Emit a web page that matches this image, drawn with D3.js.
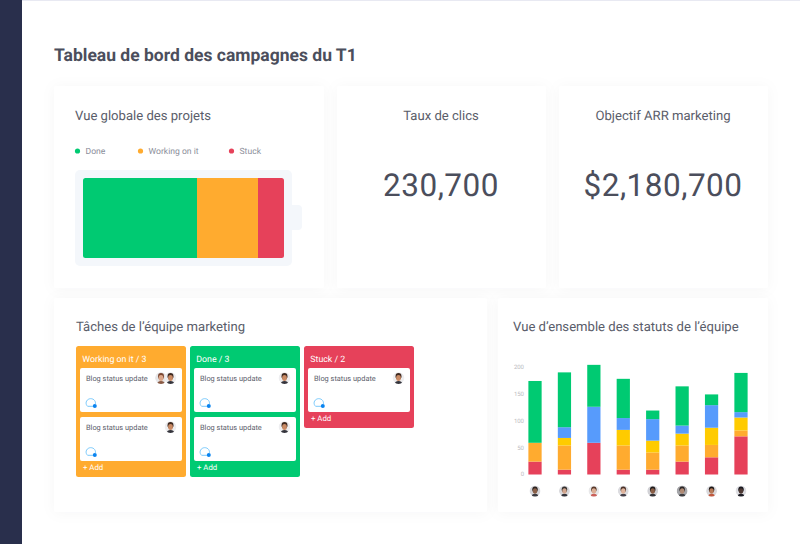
<!DOCTYPE html>
<html>
<head>
<meta charset="utf-8">
<style>
  html, body { margin: 0; padding: 0; background: #fff; overflow: hidden; }
  text { font-family: Roboto, sans-serif; text-rendering: geometricPrecision; }
</style>
<script src="https://cdn.jsdelivr.net/npm/d3@7/dist/d3.min.js"></script>
</head>
<body>
<div id="graph"></div>
<script>
// Data ////////////////////////////////////////////////////////////////
const pageTitle = "Tableau de bord des campagnes du T1";
const batteryLabels = ["Done", "Working on it", "Stuck"];
const batteryValues = [114, 61, 26];

const kpiTitles = ["Taux de clics", "Objectif ARR marketing"];
const kpiValues = ["230,700", "$2,180,700"];

const kanbanTitles = ["Working on it / 3", "Done / 3", "Stuck / 2"];
const kanbanCards = [
  [["a", "b"], ["b"]],
  [["b"], ["b"]],
  [["b"]]
];

const people = ["p1", "p2", "p3", "p4", "p5", "p6", "p7", "p8"];
const stackKeys = ["red", "orange", "yellow", "blue", "green"];
const redValues = [24, 9, 59, 9, 9, 24, 32, 71];
const orangeValues = [35, 45, 0, 45, 32, 30, 23, 11];
const yellowValues = [0, 14, 0, 29, 22, 22, 32, 24];
const blueValues = [0, 20, 67, 22, 40, 15, 42, 10];
const greenValues = [115, 102, 78, 73, 16, 73, 20, 73];
const yTicks = [0, 50, 100, 150, 200];

// Constants ////////////////////////////////////////////////////////////////
const svgWidth = 800;
const svgHeight = 544;
const colors = {
  green: "#00ca72",
  orange: "#ffab2f",
  red: "#e6415a",
  yellow: "#ffcb00",
  blue: "#579bfc",
  ink: "#4b4e5c",
  title: "#5a5d6a",
  muted: "#8b8e9a",
  sidebar: "#292f4c",
  battery: "#f4f7fb"
};
const avatarStyles = {
  a: { hair: "#7a4630", skin: "#dca78a", shirt: "#8a5a44", bg: "#e6e6e8" },
  b: { hair: "#3f2a20", skin: "#c98a64", shirt: "#34343c", bg: "#eeeef0" },
  p1: { hair: "#2c2320", skin: "#8a6048", shirt: "#3a3a40", bg: "#d6d6da" },
  p2: { hair: "#34302e", skin: "#d2a68e", shirt: "#34343c", bg: "#d8d8dc" },
  p3: { hair: "#5a3a2a", skin: "#dcae94", shirt: "#c9605a", bg: "#e8e8ea" },
  p4: { hair: "#4a3026", skin: "#e0b49c", shirt: "#45404a", bg: "#dcdce0" },
  p5: { hair: "#1e1a1a", skin: "#8a5e46", shirt: "#333338", bg: "#d2d2d6" },
  p6: { hair: "#2a2626", skin: "#b08a74", shirt: "#3c3c40", bg: "#a6a6aa" },
  p7: { hair: "#1c1716", skin: "#b87a58", shirt: "#c0583e", bg: "#dadade" },
  p8: { hair: "#1a1a20", skin: "#4e3a34", shirt: "#1c1c24", bg: "#dedee2" }
};

const svg = d3
  .select("#graph")
  .append("svg")
  .attr("width", svgWidth)
  .attr("height", svgHeight)
  .style("display", "block");

// Shadow ////////////////////////////////////////////////////////////////
const defs = svg.append("defs");
const filter = defs
  .append("filter")
  .attr("id", "cardShadow")
  .attr("x", "-10%")
  .attr("y", "-10%")
  .attr("width", "120%")
  .attr("height", "120%");
filter
  .append("feDropShadow")
  .attr("dx", 0)
  .attr("dy", 1)
  .attr("stdDeviation", 7)
  .attr("flood-color", "#1d2a50")
  .attr("flood-opacity", 0.035);

// Frame ////////////////////////////////////////////////////////////////
svg.append("rect").attr("x", 22).attr("y", 0).attr("width", 778).attr("height", 1).style("fill", "#e8e9f2");
svg.append("rect").attr("x", 0).attr("y", 0).attr("width", 22).attr("height", svgHeight).style("fill", colors.sidebar);

svg.append("text")
  .attr("x", 54)
  .attr("y", 61)
  .style("font-size", "17.5px")
  .style("font-weight", 700)
  .style("fill", colors.ink)
  .text(pageTitle);

const panels = [
  { x: 54, y: 86, w: 270, h: 202 },
  { x: 337, y: 86, w: 209, h: 202 },
  { x: 559, y: 86, w: 209, h: 202 },
  { x: 54, y: 298, w: 433, h: 214 },
  { x: 498, y: 298, w: 270, h: 214 }
];
svg.selectAll(".panel")
  .data(panels)
  .join("rect")
  .attr("class", "panel")
  .attr("x", d => d.x)
  .attr("y", d => d.y)
  .attr("width", d => d.w)
  .attr("height", d => d.h)
  .attr("rx", 3)
  .style("fill", "#fff")
  .style("filter", "url(#cardShadow)");

function panelTitle(x, y, label, anchor = "start") {
  svg.append("text")
    .attr("x", x)
    .attr("y", y)
    .attr("text-anchor", anchor)
    .style("font-size", "13.1px")
    .style("fill", colors.title)
    .text(label);
}

panelTitle(75, 120, "Vue globale des projets");
panelTitle(76, 331, "Tâches de l’équipe marketing");
panelTitle(513, 331, "Vue d’ensemble des statuts de l’équipe");

drawBattery();
drawKpis();
drawKanban();
drawStatusChart();

// Draw functions ///////////////////////////////////////////////////////////
function drawBattery() {
  const legendDots = [77.5, 140.5, 231.5];
  const batteryColors = [colors.green, colors.orange, colors.red];
  const legend = svg.selectAll(".legendItem")
    .data(batteryLabels)
    .join("g")
    .attr("class", "legendItem")
    .attr("transform", (d, i) => `translate(${legendDots[i]}, 151)`);
  legend.append("circle")
    .attr("r", 2.6)
    .style("fill", (d, i) => batteryColors[i]);
  legend.append("text")
    .attr("x", 8)
    .attr("y", 3)
    .style("font-size", "8.6px")
    .style("fill", colors.muted)
    .text(d => d);

  svg.append("rect").attr("x", 285).attr("y", 205).attr("width", 17).attr("height", 25).attr("rx", 4).style("fill", colors.battery);
  svg.append("rect").attr("x", 75).attr("y", 170).attr("width", 217).attr("height", 96).attr("rx", 5).style("fill", colors.battery);

  defs.append("clipPath")
    .attr("id", "batteryClip")
    .append("rect")
    .attr("x", 83).attr("y", 178).attr("width", 201).attr("height", 80).attr("rx", 2.5);

  const x = d3.scaleLinear().domain([0, d3.sum(batteryValues)]).range([83, 284]);
  const offsets = d3.cumsum(batteryValues);
  svg.append("g")
    .attr("clip-path", "url(#batteryClip)")
    .selectAll("rect")
    .data(batteryValues)
    .join("rect")
    .attr("x", (d, i) => x(offsets[i] - d))
    .attr("y", 178)
    .attr("width", d => x(d) - x(0))
    .attr("height", 80)
    .style("fill", (d, i) => batteryColors[i]);
}

function drawKpis() {
  const centers = [441, 663];
  kpiTitles.forEach((t, i) => {
    panelTitle(centers[i], 120, t, "middle");
    svg.append("text")
      .attr("x", centers[i])
      .attr("y", 196)
      .attr("text-anchor", "middle")
      .style("font-size", "31.5px")
      .style("letter-spacing", "0.5px")
      .style("fill", colors.ink)
      .text(kpiValues[i]);
  });
}

function drawAvatar(container, cx, cy, r, key) {
  const s = avatarStyles[key];
  const clipId = `clip-${cx}-${cy}`.replace(/\./g, "_");
  defs.append("clipPath")
    .attr("id", clipId)
    .append("circle")
    .attr("cx", cx).attr("cy", cy).attr("r", r);
  const g = container.append("g").attr("clip-path", `url(#${clipId})`);
  g.append("circle").attr("cx", cx).attr("cy", cy).attr("r", r).style("fill", s.bg);
  g.append("ellipse").attr("cx", cx).attr("cy", cy + r * 1.05).attr("rx", r * 0.62).attr("ry", r * 0.55).style("fill", s.shirt);
  g.append("ellipse").attr("cx", cx).attr("cy", cy - r * 0.28).attr("rx", r * 0.5).attr("ry", r * 0.55).style("fill", s.hair);
  g.append("ellipse").attr("cx", cx).attr("cy", cy + r * 0.02).attr("rx", r * 0.4).attr("ry", r * 0.5).style("fill", s.skin);
}

function drawChatIcon(container, cx, cy) {
  container.append("path")
    .attr("d", `M${cx - 3.4} ${cy + 3.8} A4.7 4.4 0 1 1 ${cx + 4.4} ${cy + 1.4}`)
    .style("fill", "none")
    .style("stroke", "#6cc3fa")
    .style("stroke-width", 0.9);
  container.append("path")
    .attr("d", `M${cx - 3.4} ${cy + 3.8} L${cx + 2} ${cy + 3.8}`)
    .style("stroke", "#6cc3fa")
    .style("stroke-width", 0.9);
  container.append("circle")
    .attr("cx", cx + 3.8)
    .attr("cy", cy + 3.4)
    .attr("r", 2)
    .style("fill", "#0a84f0");
}

function drawKanban() {
  const colFill = [colors.orange, colors.green, colors.red];
  const cardH = 44;
  const cardGap = 49;

  kanbanTitles.forEach((title, i) => {
    const x0 = 76 + i * 114;
    const cards = kanbanCards[i];
    const col = svg.append("g");
    col.append("rect")
      .attr("x", x0)
      .attr("y", 346)
      .attr("width", 110)
      .attr("height", 33 + cards.length * cardGap)
      .attr("rx", 2.5)
      .style("fill", colFill[i]);
    col.append("text")
      .attr("x", x0 + 6.3)
      .attr("y", 362)
      .style("font-size", "8.8px")
      .style("fill", "#fff")
      .text(title);

    cards.forEach((avatars, j) => {
      const y0 = 368 + j * cardGap;
      col.append("rect")
        .attr("x", x0 + 4)
        .attr("y", y0)
        .attr("width", 102)
        .attr("height", cardH)
        .attr("rx", 2)
        .style("fill", "#fff");
      col.append("text")
        .attr("x", x0 + 10)
        .attr("y", y0 + 13)
        .style("font-size", "7.4px")
        .style("fill", colors.title)
        .text("Blog status update");
      drawChatIcon(col, x0 + 15, y0 + 34.5);
      avatars.forEach((a, k) => {
        const cx = x0 + 94.5 - (avatars.length - 1 - k) * 9.5;
        drawAvatar(col, cx, y0 + 10, 6, a);
      });
    });

    col.append("text")
      .attr("x", x0 + 7)
      .attr("y", 368 + cards.length * cardGap + 4)
      .style("font-size", "7.8px")
      .style("fill", "#fff")
      .text("+ Add");
  });
}

function drawStatusChart() {
  const rows = people.map((p, i) => ({
    person: p,
    red: redValues[i],
    orange: orangeValues[i],
    yellow: yellowValues[i],
    blue: blueValues[i],
    green: greenValues[i]
  }));

  const x = d3.scaleBand().domain(people).range([520.3, 755.7]).paddingInner(0.55).paddingOuter(0.275);
  const y = d3.scaleLinear().domain([0, 200]).range([474.5, 367]);

  const stack = d3.stack().keys(stackKeys)(rows);

  const yAxis = svg.append("g")
    .attr("transform", "translate(524, 0)")
    .call(d3.axisLeft(y).tickValues(yTicks).tickSize(0).tickPadding(0));
  yAxis.select(".domain").remove();
  yAxis.selectAll("text")
    .attr("y", -0.5)
    .style("font-family", "Roboto, sans-serif")
    .style("font-size", "6px")
    .style("fill", "#bcbcc2");

  svg.append("g")
    .selectAll("g")
    .data(stack)
    .join("g")
    .style("fill", d => colors[d.key])
    .selectAll("rect")
    .data(d => d)
    .join("rect")
    .attr("x", d => x(d.data.person))
    .attr("y", d => y(d[1]))
    .attr("width", x.bandwidth())
    .attr("height", d => y(d[0]) - y(d[1]));

  people.forEach(p => {
    drawAvatar(svg, x(p) + x.bandwidth() / 2, 491, 5.5, p);
  });
}
</script>
</body>
</html>
